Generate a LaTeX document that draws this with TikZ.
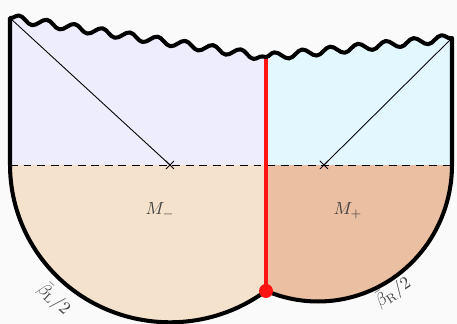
\documentclass[tikz,border=0pt]{standalone}
\usepackage{amsmath,amssymb}
\usetikzlibrary{decorations.pathmorphing,shapes.misc}
\definecolor{WedgePaper}{HTML}{FAFAFA}
\definecolor{WedgeLeftUp}{HTML}{EDEDFD}
\definecolor{WedgeRightUp}{HTML}{E3F7FF}
\definecolor{WedgeLeftDown}{HTML}{F4E2CD}
\definecolor{WedgeRightDown}{HTML}{EBBFA2}
\definecolor{WedgeInk}{gray}{0.0}
\definecolor{WedgeText}{gray}{0.25}
\definecolor{WedgeBrane}{HTML}{FF1414}
\tikzset{
    wedge/diagram/.style={
        font=\normalsize,
        text=WedgeText,
        line cap=round,
        line join=round,
        decoration={snake, amplitude=0.075cm, segment length=0.56cm}
    },
    wedge/outline/.style={draw=WedgeInk, line width=2.3pt},
    wedge/thin/.style={draw=WedgeInk, line width=0.5pt},
    wedge/horizon/.style={
        draw=WedgeInk, line width=0.55pt, line cap=butt,
        dash pattern=on 4.5pt off 3.2pt
    },
    wedge/brane/.style={draw=WedgeBrane, line width=2.3pt, line cap=butt},
    wedge/joint/.style={circle, fill=WedgeBrane, draw=none, minimum size=0.28cm, inner sep=0pt},
    wedge/cross/.style={cross out, draw=WedgeInk, line width=0.5pt, minimum size=0.14cm, inner sep=0pt},
    wedge/label/.style={inner sep=1pt}
}

\begin{document}
\begin{tikzpicture}[wedge/diagram]
    \useasboundingbox[fill=WedgePaper] (0,-3.18) rectangle (9.14,3.3);
    % corners of the two patches
    \coordinate (TL) at (0.2,2.94);
    \coordinate (TM) at (5.32,2.16);
    \coordinate (TR) at (9.04,2.54);
    \coordinate (BL) at (0.2,0);
    \coordinate (BM) at (5.32,0);
    \coordinate (BR) at (9.04,0);
    \coordinate (J) at (5.32,-2.52);
    % regions
    \fill[WedgeLeftUp] (BL) -- (TL) decorate {-- (TM)} -- (BM) -- cycle;
    \fill[WedgeRightUp] (BM) -- (TM) decorate {-- (TR)} -- (BR) -- cycle;
    \fill[WedgeLeftDown] (BL)
        arc[start angle=180, end angle=306.87, x radius=3.2, y radius=3.15]
        -- (BM) -- cycle;
    \fill[WedgeRightDown] (J)
        arc[start angle=247.17, end angle=360, x radius=2.68, y radius=2.73]
        -- (BM) -- cycle;
    % horizon and fixed points
    \draw[wedge/horizon] (BL) -- (BR);
    \node[wedge/cross] (XL) at (3.4,0) {};
    \node[wedge/cross] (XR) at (6.48,0) {};
    \draw[wedge/thin] (TL) -- (XL.center);
    \draw[wedge/thin] (TR) -- (XR.center);
    % brane
    \draw[wedge/brane] (TM) -- (J);
    % boundary
    \draw[wedge/outline] (TL) decorate {-- (TM)} decorate {-- (TR)} -- (BR)
        arc[start angle=0, end angle=-112.83, x radius=2.68, y radius=2.73]
        arc[start angle=-53.13, end angle=-180, x radius=3.2, y radius=3.15]
        -- cycle;
    \node[wedge/joint] (Jdot) at (J) {};
    % labels
    \node[wedge/label] (Mm) at (3.2,-0.92) {$M_{-}$};
    \node[wedge/label] (Mp) at (6.96,-0.92) {$M_{+}$};
    \node[wedge/label, rotate=-42] (bL) at (1.08,-2.68) {$\bar\beta_{\mathrm{L}}/2$};
    \node[wedge/label, rotate=34] (bR) at (7.86,-2.55) {$\bar\beta_{\mathrm{R}}/2$};
\end{tikzpicture}
\end{document}
